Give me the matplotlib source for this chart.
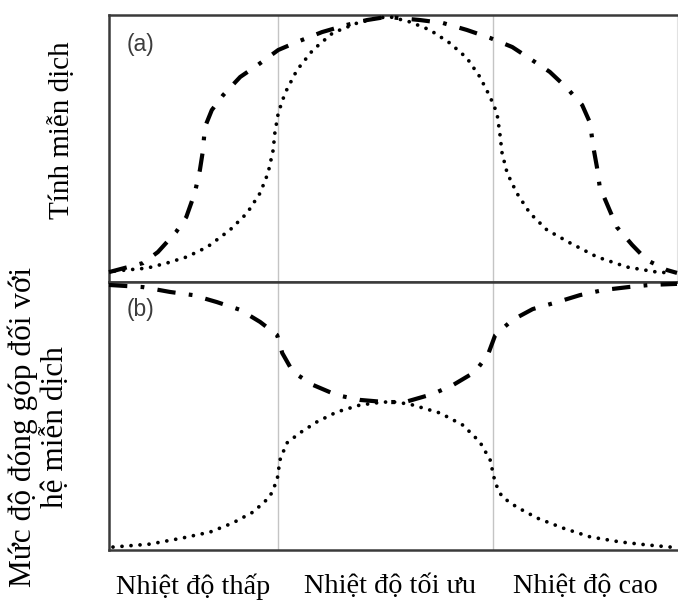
import matplotlib
matplotlib.use("Agg")
import matplotlib.pyplot as plt

# Temperature axis runs 0..100 (arbitrary units); responses are normalised 0..1
zone_edges = [29.75, 67.6]
zone_centers = [14.8, 49.5, 83.8]
zone_labels = ["Nhiệt độ thấp", "Nhiệt độ tối ưu", "Nhiệt độ cao"]

# (a) immune capacity
a_dashdot_x = [0.0, 6.0, 8.6, 11.8, 13.6, 15.1, 16.0, 16.5, 16.9, 18.1, 20.1, 23.1, 26.2,
               29.8, 33.1, 37.5, 41.9, 45.4, 48.9, 54.8, 58.8, 63.0, 67.1, 71.0, 74.5,
               77.6, 80.6, 83.3, 84.7, 85.2, 85.9, 86.4, 87.9, 89.4, 92.1, 94.7, 98.2, 100.0]
a_dashdot_y = [0.037, 0.071, 0.112, 0.187, 0.243, 0.333, 0.419, 0.487, 0.581, 0.644, 0.700,
               0.768, 0.813, 0.869, 0.899, 0.936, 0.963, 0.981, 0.993, 0.981, 0.970, 0.944,
               0.914, 0.880, 0.831, 0.787, 0.727, 0.663, 0.596, 0.513, 0.431, 0.356, 0.281,
               0.206, 0.139, 0.082, 0.045, 0.034]

a_dotted_x = [1.0, 6.7, 10.2, 13.7, 17.3, 21.3, 24.3, 26.6, 28.0, 28.9, 29.2, 29.8, 31.0,
              33.1, 35.9, 39.4, 43.7, 47.2, 49.5, 53.0, 56.5, 60.0, 63.0, 65.3, 67.1, 68.3,
              68.8, 69.2, 70.1, 71.8, 74.1, 77.1, 81.2, 85.9, 91.2, 96.5, 99.1]
a_dotted_y = [0.041, 0.052, 0.071, 0.094, 0.131, 0.195, 0.258, 0.333, 0.408, 0.494, 0.558,
              0.633, 0.708, 0.794, 0.869, 0.933, 0.970, 0.989, 0.993, 0.974, 0.944, 0.895,
              0.839, 0.768, 0.693, 0.633, 0.558, 0.483, 0.408, 0.333, 0.258, 0.195, 0.146,
              0.094, 0.056, 0.037, 0.034]

# (b) contribution to the immune system
b_dashdot_x = [0.0, 6.0, 10.7, 14.8, 19.0, 23.1, 26.6, 29.6, 30.5, 32.4, 35.9, 40.1, 44.2,
               48.6, 52.1, 57.0, 60.6, 64.4, 66.7, 68.0, 71.0, 74.6, 78.9, 82.9, 87.0, 91.4,
               95.2, 100.0]
b_dashdot_y = [0.989, 0.981, 0.963, 0.951, 0.925, 0.896, 0.851, 0.802, 0.735, 0.664, 0.616,
               0.578, 0.560, 0.552, 0.552, 0.582, 0.616, 0.664, 0.728, 0.802, 0.858, 0.899,
               0.925, 0.951, 0.970, 0.981, 0.989, 0.993]

b_dotted_x = [0.7, 7.2, 13.0, 17.8, 21.8, 25.4, 28.3, 29.6, 30.1, 31.3, 33.6, 36.6, 40.1,
              44.2, 48.2, 50.7, 53.5, 58.3, 62.3, 65.3, 67.1, 68.0, 69.2, 71.8, 75.4, 79.9,
              84.7, 90.0, 94.7, 98.8]
b_dotted_y = [0.011, 0.022, 0.045, 0.067, 0.101, 0.142, 0.198, 0.261, 0.336, 0.399, 0.437,
              0.478, 0.515, 0.541, 0.552, 0.552, 0.541, 0.511, 0.466, 0.403, 0.336, 0.250,
              0.198, 0.160, 0.119, 0.082, 0.049, 0.030, 0.019, 0.011]

W, H = 678, 604
fig = plt.figure(figsize=(W / 100, H / 100), dpi=100)

left, right = 109 / W, 677 / W
y_top, y_mid, y_bot = 1 - 15 / H, 1 - 282 / H, 1 - 550 / H
ax_a = fig.add_axes([left, y_mid, right - left, y_top - y_mid])
ax_b = fig.add_axes([left, y_bot, right - left, y_mid - y_bot], sharex=ax_a)

dashdot_kw = dict(color="black", lw=3.0, linestyle=(0, (4.4, 3.2, 0.9, 3.2)),
                  dash_capstyle="butt", clip_on=False, zorder=3)
dotted_kw = dict(color="black", lw=2.7, linestyle=(0, (0.01, 2.4)),
                 dash_capstyle="round", clip_on=False, zorder=3)

spine_color = "#3a3a3a"
for ax in (ax_a, ax_b):
    ax.set_xlim(0, 100)
    ax.set_ylim(0, 1)
    ax.set_yticks([])
    for xv in zone_edges:
        ax.axvline(xv, color="#c4c4c4", lw=1.0, zorder=1)
    for side in ("left", "top", "bottom"):
        ax.spines[side].set_color(spine_color)
        ax.spines[side].set_linewidth(1.8)
    ax.spines["right"].set_color("#e2e2e2")
    ax.spines["right"].set_linewidth(0.8)

ax_b.spines["right"].set_visible(False)

ax_a.plot(a_dashdot_x, a_dashdot_y, **dashdot_kw)
ax_a.plot(a_dotted_x, a_dotted_y, **dotted_kw)
ax_b.plot(b_dashdot_x, b_dashdot_y, **dashdot_kw)
ax_b.plot(b_dotted_x, b_dotted_y, **dotted_kw)

panel_font = dict(family=["Liberation Sans", "DejaVu Sans"], fontsize=16.5, color="#3c3c3c")
ax_a.text(0.031, 0.888, "(a)", transform=ax_a.transAxes, va="center", ha="left", **panel_font)
ax_b.text(0.031, 0.896, "(b)", transform=ax_b.transAxes, va="center", ha="left", **panel_font)

serif = ["Liberation Serif", "DejaVu Serif"]
ax_a.tick_params(axis="x", length=0, labelbottom=False)
ax_b.set_xticks(zone_centers)
ax_b.set_xticklabels(zone_labels, fontfamily=serif, fontsize=20.3)
ax_b.tick_params(axis="x", length=0, pad=17)

fig.text(62 / W, 1 - 130 / H, "Tính miễn dịch", rotation=90, ha="center", va="center",
         family=serif, fontsize=21)
fig.text(39 / W, 1 - 427 / H, "Mức độ đóng góp đối với\nhệ miễn dịch", rotation=90,
         ha="center", va="center", family=serif, fontsize=22.5, linespacing=1.12,
         multialignment="center")

fig.savefig("out.png", dpi=100, facecolor="white")
